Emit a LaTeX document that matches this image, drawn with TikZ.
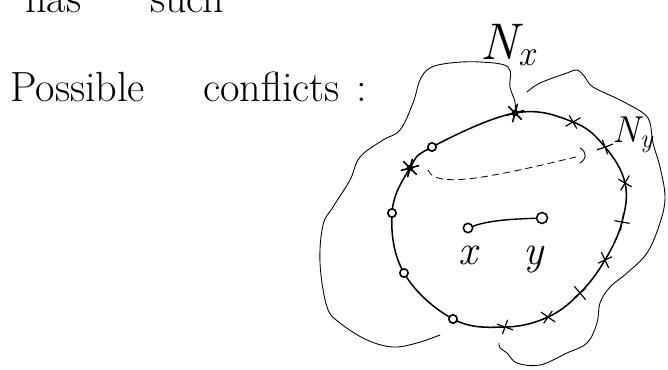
\documentclass[tikz,border=0pt]{standalone}
\usetikzlibrary{positioning, backgrounds}
\begin{document}
\begin{tikzpicture}[x=0.03cm, y=-0.03cm,
    hand/.style={line width=0.75pt, line cap=round, line join=round},
    ring/.style={line width=1.3pt},
    omark/.style={circle, draw, line width=1.4pt, inner sep=0pt, minimum size=0.25cm, fill=white},
    vtx/.style={circle, draw, line width=1.3pt, inner sep=0pt, minimum size=0.28cm, fill=white},
    words/.style={inner sep=0pt, anchor=base west, font=\fontsize{36}{40}\selectfont},
    tag/.style={inner sep=0pt, font=\fontsize{#1}{#1}\selectfont\itshape},
    conflict/.style={line width=0.7pt, dash pattern=on 0.2cm off 0.14cm, line cap=round},
    starline/.style={line width=1.4pt, line cap=round},
    crossline/.style={line width=1pt, line cap=round}
  ]
  \useasboundingbox (0,0) rectangle (668,370);
  \clip (0,0) rectangle (668,370);

  % text
  \node[words] (has) at (25,13) {has};
  \node[words] (such) at (150,13) {such};
  \node[words] (gtail) at (540,-9) {g};
  \node[words] (poss) at (10,102) {Possible};
  \node[words] (conf) at (203,102) {conflicts\hspace{0.5cm}:};

  % markers on the boundary
  \coordinate (sa) at (515,113);
  \coordinate (sb) at (410,168);
  \node[omark] (oa) at (432,147) {};
  \node[omark] (ob) at (392,213) {};
  \node[omark] (oc) at (404,273) {};
  \node[omark] (od) at (453,319) {};
  \foreach \px/\py/\r [count=\i] in {573/122/30, 605/147/20, 625/183/60,
      622/222/80, 605/260/-65, 580/293/-50, 548/317/-35, 505/327/-20}
  {
    \coordinate (x\i) at (\px,\py);
    \draw[crossline, shift={(\px,\py)}, rotate=\r] (-0.25cm,0) -- (0.25cm,0) (0,-0.22cm) -- (0,0.22cm);
  }
  \foreach \s in {sa,sb}
  {
    \foreach \a in {15,75,135}
      \draw[starline, shift={(\s)}] (\a:0.27cm) -- (\a+180:0.27cm);
    \fill (\s) circle (0.1cm);
  }

  \begin{scope}[on background layer]
    \draw[ring] plot[smooth cycle, tension=0.65] coordinates {(sa) (x1) (x2)
      (x3) (x4) (x5) (x6) (x7) (x8)
      (od.center) (oc.center) (ob.center) (sb) (oa.center)};
  \end{scope}

  % neighbourhoods
  \draw[hand] plot[smooth, tension=0.6] coordinates {(sa) (515,102) (510,87) (508,67)
    (480,62) (450,63) (430,68) (420,80) (413,103) (400,130) (383,140) (360,157)
    (350,180) (333,207) (323,225) (320,263) (327,307) (340,323) (367,340)
    (393,347) (417,343) (440,335)};
  \draw[hand] plot[smooth, tension=0.6] coordinates {(527,92) (540,83) (567,73)
    (577,70) (585,77) (593,87) (620,100) (643,113) (650,123) (653,143) (660,167)
    (665,197) (660,223) (647,253) (627,273) (610,287) (600,303) (597,323)
    (587,343) (567,353) (540,365) (517,363) (507,353) (500,348) (499,343)};

  % conflict between the two stars
  \coordinate (cs) at (428,170);
  \coordinate (ce) at (576,157);
  \draw[conflict] (cs) .. controls (432,181) and (452,181) .. (476,178)
    .. controls (515,172) and (550,163) .. (ce);
  \draw[hand] (580,148) .. controls (587,152) and (587,159) .. (580,163);

  % inner pair
  \node[vtx] (vx) at (468,228) {};
  \node[vtx, minimum size=0.33cm] (vy) at (542,218) {};
  \draw[line width=1.2pt] (vx) .. controls (490,220) and (515,219) .. (vy);
  \node[tag=36] (lx) at (468,255) {x};
  \node[tag=36] (ly) at (534,260) {y};

  % labels
  \node[tag=44] (nx) at (508,45) {N\textsubscript{x}};
  \node[tag=32] (ny) at (633,135) {N\textsubscript{y}};
\end{tikzpicture}
\end{document}
